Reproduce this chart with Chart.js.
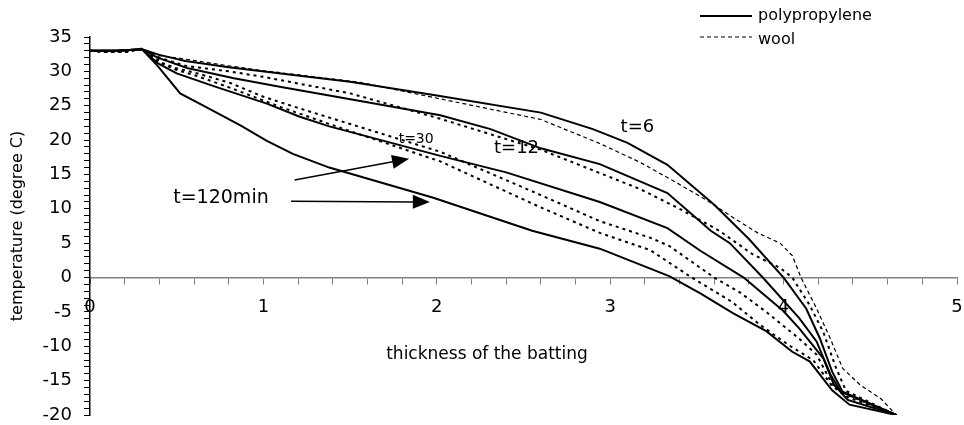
<!DOCTYPE html>
<html>
<head>
<meta charset="utf-8">
<title>temperature profile</title>
<script src="https://cdn.jsdelivr.net/npm/chart.js@4.4.1/dist/chart.umd.min.js"></script>
<style>
  html, body { margin: 0; padding: 0; background: #fff; }
  #wrap { width: 964px; height: 425px; position: relative; }
</style>
</head>
<body>
<div id="wrap"><canvas id="grafico"></canvas></div>
<script>
// temperature (degree C) against position in the batting, [x, y]
// polypropylene, solid lines
const pp6 = [[0,33],[0.15,33],[0.3,33.2],[0.4,32.4],[0.55,31.5],[0.8,30.6],[1.1,29.7],[1.5,28.5],[2.0,26.5],[2.6,24.0],[2.9,21.6],[3.1,19.6],[3.33,16.4],[3.6,10.6],[3.8,5.6],[4.0,0],[4.13,-4.5],[4.21,-8.9],[4.28,-13.7],[4.34,-16.6],[4.65,-20]];
const pp12 = [[0,33],[0.15,33],[0.3,33.2],[0.39,32.0],[0.56,30.5],[0.83,29.0],[1.11,27.7],[1.38,26.5],[2.02,23.6],[2.31,21.6],[2.6,18.8],[2.94,16.5],[3.33,12.3],[3.58,6.8],[3.69,5.0],[3.88,0],[4.09,-5.9],[4.19,-9.3],[4.27,-14.1],[4.33,-16.6],[4.65,-20]];
const pp30 = [[0,33],[0.15,33],[0.3,33.2],[0.39,31.2],[0.5,29.7],[0.73,27.7],[1.02,25.3],[1.21,23.4],[1.38,22.0],[2.02,17.7],[2.4,15.3],[2.94,11.0],[3.33,7.2],[3.52,3.9],[3.77,0],[4.0,-4.9],[4.09,-7.4],[4.17,-9.9],[4.23,-11.8],[4.29,-15.6],[4.37,-17.8],[4.65,-20]];
const pp120 = [[0,33],[0.15,33],[0.3,33.2],[0.39,30.8],[0.52,26.8],[0.67,24.8],[0.87,22.1],[1.02,19.9],[1.17,18.0],[1.38,16.0],[1.98,11.6],[2.55,6.8],[2.94,4.2],[3.34,0.2],[3.52,-2.3],[3.71,-5.2],[3.9,-7.8],[4.05,-10.8],[4.15,-12.2],[4.28,-16.4],[4.38,-18.5],[4.65,-20]];
// wool, dotted lines
const wo6 = [[0,33],[0.1,32.8],[0.2,32.8],[0.3,33.3],[0.4,32.3],[0.52,31.9],[0.8,30.8],[1.0,30.1],[1.56,28.4],[2.02,26.0],[2.6,23.0],[2.94,19.5],[3.17,16.8],[3.39,13.7],[3.56,11.2],[3.71,8.7],[3.85,6.5],[3.98,5.0],[4.05,3.2],[4.1,0],[4.19,-4.5],[4.27,-8.9],[4.34,-13.2],[4.44,-15.6],[4.56,-17.6],[4.65,-20]];
const wo12 = [[0,33],[0.1,32.8],[0.2,32.8],[0.3,33.3],[0.4,32.0],[0.55,30.8],[0.8,30.0],[1.0,29.2],[1.5,26.8],[2.02,23.1],[2.6,18.6],[2.94,15.2],[3.17,12.9],[3.4,10.0],[3.63,6.8],[3.82,3.4],[3.98,1.4],[4.05,0],[4.15,-4.0],[4.23,-8.0],[4.3,-13.0],[4.36,-16.5],[4.65,-20]];
const wo30 = [[0,33],[0.1,32.8],[0.2,32.8],[0.3,33.3],[0.42,31.2],[0.49,30.5],[0.62,29.7],[0.81,28.3],[1.0,26.3],[1.21,24.6],[2.02,18.3],[2.6,12.0],[2.94,8.2],[3.23,5.8],[3.34,4.6],[3.6,0],[3.75,-2.2],[3.9,-5.0],[4.09,-8.9],[4.19,-11.2],[4.28,-15.5],[4.36,-17.0],[4.65,-20]];
const wo120 = [[0,33],[0.1,32.8],[0.2,32.8],[0.3,33.3],[0.4,31.3],[0.5,30.2],[0.62,29.3],[0.81,27.6],[1.1,24.8],[1.5,21.3],[2.02,16.9],[2.6,10.2],[2.94,6.5],[3.23,4.0],[3.47,0],[3.7,-3.5],[3.86,-6.8],[3.96,-8.6],[4.04,-10.0],[4.17,-12.0],[4.28,-15.8],[4.37,-17.4],[4.65,-20]];

// curve labels [text, x, y, font size] and arrows [x1, y1, x2, y2]
const etiquetas = [["t=6", 3.06, 21.8, 18], ["t=12", 2.33, 18.8, 18], ["t=30", 1.78, 20.1, 14], ["t=120min", 0.48, 11.6, 19]];
const flechas = [[1.18, 14.2, 1.84, 17.3], [1.16, 11.1, 1.96, 11.0]];

const fuente = "'DejaVu Sans', sans-serif";

function serie(puntos, punteada, fina) {
	return {
		data: puntos.map(p => ({x: p[0], y: p[1]})),
		showLine: true,
		borderColor: '#000',
		borderWidth: fina ? 1.2 : 2,
		borderDash: punteada ? (fina ? [4, 3] : [3, 4]) : [],
		pointRadius: 0,
		tension: 0,
		fill: false
	};
}

// legend, curve labels, arrows and x title
const extras = {
	id: 'extras',
	afterDatasetsDraw(chart) {
		const ctx = chart.ctx;
		const sx = chart.scales.x, sy = chart.scales.y;
		ctx.save();
		ctx.fillStyle = '#000';
		ctx.strokeStyle = '#000';
		ctx.textBaseline = 'middle';
		ctx.textAlign = 'left';

		etiquetas.forEach(e => {
			ctx.font = e[3] + 'px ' + fuente;
			ctx.fillText(e[0], sx.getPixelForValue(e[1]), sy.getPixelForValue(e[2]));
		});

		flechas.forEach(f => {
			const x1 = sx.getPixelForValue(f[0]), y1 = sy.getPixelForValue(f[1]);
			const x2 = sx.getPixelForValue(f[2]), y2 = sy.getPixelForValue(f[3]);
			const ang = Math.atan2(y2 - y1, x2 - x1);
			ctx.lineWidth = 1.5;
			ctx.beginPath();
			ctx.moveTo(x1, y1);
			ctx.lineTo(x2 - 14 * Math.cos(ang), y2 - 14 * Math.sin(ang));
			ctx.stroke();
			ctx.beginPath();
			ctx.moveTo(x2, y2);
			ctx.lineTo(x2 - 17 * Math.cos(ang) + 7 * Math.sin(ang), y2 - 17 * Math.sin(ang) - 7 * Math.cos(ang));
			ctx.lineTo(x2 - 17 * Math.cos(ang) - 7 * Math.sin(ang), y2 - 17 * Math.sin(ang) + 7 * Math.cos(ang));
			ctx.closePath();
			ctx.fill();
		});

		// legend
		ctx.font = '16px ' + fuente;
		ctx.lineWidth = 2;
		ctx.beginPath();
		ctx.moveTo(700, 16);
		ctx.lineTo(752, 16);
		ctx.stroke();
		ctx.fillText('polypropylene', 758, 16);
		ctx.lineWidth = 1.2;
		ctx.setLineDash([4, 3]);
		ctx.beginPath();
		ctx.moveTo(700, 37);
		ctx.lineTo(752, 37);
		ctx.stroke();
		ctx.setLineDash([]);
		ctx.fillText('wool', 758, 40);

		// x axis title
		ctx.font = '17px ' + fuente;
		ctx.textAlign = 'center';
		ctx.fillText('thickness of the batting', 487, 355);
		ctx.restore();
	}
};

const ctx = document.getElementById("grafico").getContext('2d');
window.grafica = new Chart(ctx, {
	type: 'scatter',
	data: {
		datasets: [
			serie(pp6), serie(pp12), serie(pp30), serie(pp120),
			serie(wo6, true, true), serie(wo12, true), serie(wo30, true), serie(wo120, true)
		]
	},
	options: {
		responsive: true,
		maintainAspectRatio: false,
		animation: false,
		layout: {padding: {left: 0, top: 37, right: 7, bottom: 10}},
		plugins: {
			legend: {display: false},
			tooltip: {enabled: false}
		},
		scales: {
			x: {
				type: 'linear',
				min: 0,
				max: 5,
				position: {y: 0},
				border: {color: '#808080', width: 1.5},
				grid: {drawOnChartArea: false, drawTicks: true, tickLength: 6, color: '#808080'},
				ticks: {
					stepSize: 0.2,
					autoSkip: false,
					maxRotation: 0,
					padding: 13,
					color: '#000',
					font: {family: fuente, size: 18},
					callback: v => Math.abs(v - Math.round(v)) < 1e-6 ? Math.round(v) : ''
				},
				afterFit: function(scale) {
					scale.paddingLeft = 0;
					scale.paddingRight = 0;
				}
			},
			y: {
				min: -20,
				max: 35,
				border: {color: '#000', width: 1.5},
				grid: {drawOnChartArea: false, drawTicks: true, tickLength: 6, color: '#000'},
				ticks: {
					stepSize: 1,
					autoSkip: false,
					padding: 12,
					color: '#000',
					font: {family: fuente, size: 18},
					callback: v => v % 5 === 0 ? v : ''
				},
				title: {
					display: true,
					text: 'temperature (degree C)',
					color: '#000',
					font: {family: fuente, size: 16},
					padding: {top: 8, bottom: 0}
				},
				afterFit: function(scale) {
					// fixed axis width; the layout padding already leaves room for the end labels
					scale.width = 90;
					scale.paddingTop = 0;
					scale.paddingBottom = 0;
				}
			}
		}
	},
	plugins: [extras]
});
</script>
</body>
</html>
